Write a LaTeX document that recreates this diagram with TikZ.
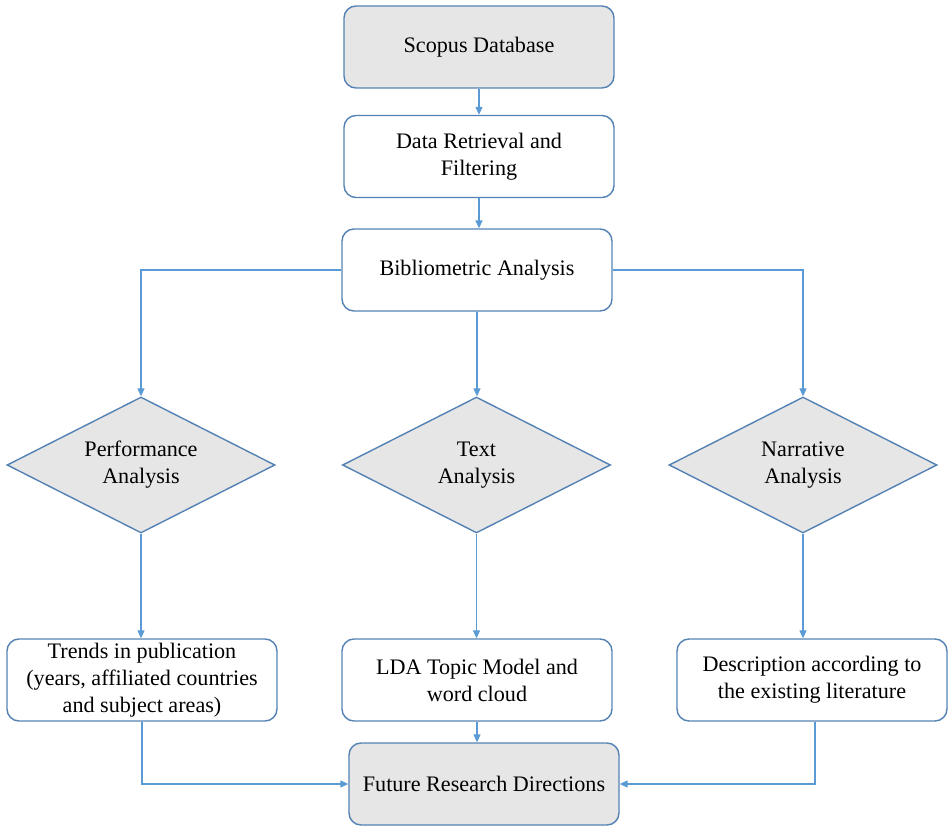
\documentclass[tikz,border=0pt]{standalone}
\usepackage{fontspec}
\setmainfont{Liberation Serif}
\newfontfamily\diagfont{Liberation Serif}
\usetikzlibrary{shapes.geometric,arrows.meta}
\definecolor{boxline}{RGB}{84,130,180}
\definecolor{arrowline}{RGB}{91,155,213}
\definecolor{boxfill}{RGB}{230,230,230}
\begin{document}
\begin{tikzpicture}[
  font=\diagfont\fontsize{12.6}{15.4}\selectfont,
  stagebox/.style={draw=boxline,line width=0.8pt,rounded corners=0.24cm,
    minimum width=5.4cm,minimum height=1.64cm,align=center,inner sep=2pt},
  graybox/.style={stagebox,fill=boxfill},
  choice/.style={diamond,aspect=2,draw=boxline,line width=0.8pt,fill=boxfill,
    minimum width=5.36cm,minimum height=2.72cm,align=center,inner sep=0pt},
  flow/.style={draw=arrowline,line width=0.6pt,-{Triangle[length=4.5pt,width=4pt]}}]
\useasboundingbox (0,0) rectangle (18.96,16.56);
\node[graybox] (scopus) at (9.58,15.62) {Scopus Database};
\node[stagebox] (retrieval) at (9.58,13.43) {Data Retrieval and\\Filtering};
\node[stagebox] (biblio) at (9.54,11.16) {Bibliometric Analysis};
\node[choice] (perf) at (2.82,7.26) {Performance\\Analysis};
\node[choice] (textan) at (9.53,7.26) {Text\\Analysis};
\node[choice] (narr) at (16.06,7.26) {Narrative\\Analysis};
\node[stagebox] (trends) at (2.84,2.96) {Trends in publication\\(years, affiliated countries\\and subject areas)};
\node[stagebox] (lda) at (9.54,2.96) {LDA Topic Model and\\word cloud};
\node[stagebox] (desc) at (16.24,2.96) {Description according to\\the existing literature};
\node[graybox] (future) at (9.68,0.88) {Future Research Directions};
\draw[flow] (scopus.south) -- (scopus.south |- retrieval.north);
\draw[flow] (retrieval.south) -- (retrieval.south |- biblio.north);
\draw[flow] (biblio.west) -| (perf.north);
\draw[flow] (biblio.south) -- (biblio.south |- textan.north);
\draw[flow] (biblio.east) -| (narr.north);
\draw[flow] (perf.south) -- (perf.south |- trends.north);
\draw[flow] (textan.south) -- (textan.south |- lda.north);
\draw[flow] (narr.south) -- (narr.south |- desc.north);
\draw[flow] (lda.south) -- (lda.south |- future.north);
\draw[flow] (trends.south) |- (future.west);
\draw[flow] ([xshift=0.06cm]desc.south) |- (future.east);
\end{tikzpicture}
\end{document}
